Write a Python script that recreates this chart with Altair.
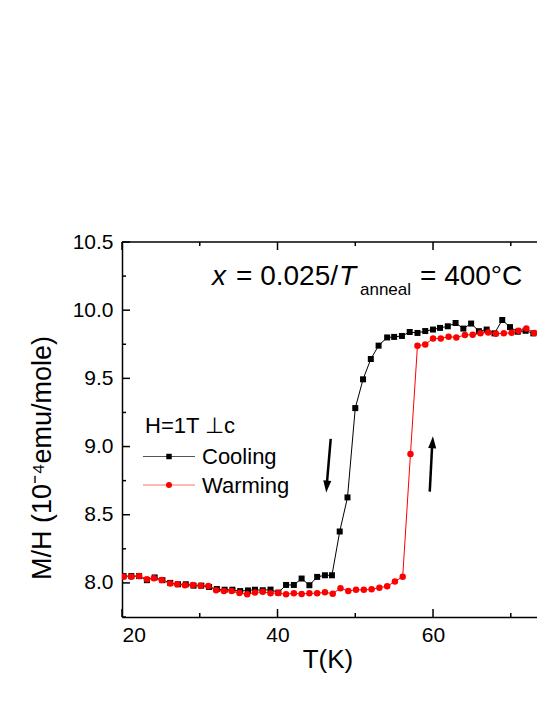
import altair as alt
import pandas as pd

# ---------------- data ----------------
cool_T = [20.2, 21.2, 22.2, 23.2, 24.2, 25.2, 26.2, 27.2, 28.2, 29.2, 30.2, 31.2, 32.2, 33.2, 34.2, 35.2, 36.2,
          37.1, 38.1, 39.1, 40.1, 41.1, 42.1, 43.1, 44.1, 45.1, 46.1,
          47.0, 48.0, 49.0, 50.0, 51.0, 52.0, 53.0,
          54.1, 55.0, 56.0, 57.0, 58.0, 59.0, 60.0,
          60.9, 61.9, 62.9, 63.9, 64.9, 65.9, 66.9, 67.9, 68.9, 69.9, 70.9, 71.9, 72.9, 73.9]
cool_M = [8.05, 8.05, 8.05, 8.02, 8.04, 8.02, 8.00, 7.99, 7.99, 7.98, 7.98, 7.97, 7.955, 7.95, 7.95, 7.94, 7.945,
          7.95, 7.946, 7.951, 7.929, 7.985, 7.985, 8.032, 7.983, 8.044, 8.056,
          8.056, 8.377, 8.627, 9.282, 9.493, 9.642, 9.74,
          9.80, 9.804, 9.811, 9.84, 9.833, 9.847, 9.858,
          9.87, 9.882, 9.906, 9.865, 9.902, 9.846, 9.858, 9.83, 9.928, 9.876, 9.842, 9.849, 9.83, 9.838]

warm_T = [20.2, 21.2, 22.2, 23.2, 24.1, 25.1, 26.2, 27.1, 28.1, 29.1, 30.1, 31.1, 32.1, 33.1, 34.1, 35.1, 36.1, 37.1,
          38.1, 39.1, 40.1, 41.1, 42.1, 43.1, 44.1, 45.1, 46.1, 47.1, 48.1, 49.1, 50.1, 51.1, 52.1, 53.1, 54.1,
          55.1, 56.1, 57.1,
          58.0, 59.0, 60.0, 61.0, 62.0, 63.0, 64.1, 65.1, 66.1, 67.1, 68.1, 69.1, 70.1, 71.0, 72.0, 73.0, 73.9]
warm_M = [8.046, 8.046, 8.05, 8.027, 8.034, 8.022, 7.995, 7.99, 7.983, 7.985, 7.98, 7.978, 7.946, 7.941, 7.941,
          7.926, 7.917, 7.929,
          7.936, 7.924, 7.926, 7.917, 7.924, 7.919, 7.924, 7.924, 7.931, 7.921, 7.961, 7.941, 7.949, 7.949, 7.953,
          7.965, 7.975, 8.01, 8.046, 8.946,
          9.74, 9.748, 9.792, 9.792, 9.806, 9.80, 9.818, 9.82, 9.83, 9.837, 9.827, 9.83, 9.834, 9.85, 9.866, 9.832,
          9.837]

x_major = [20, 40, 60]
x_minor = [30, 50, 70]
y_major = [8.0, 8.5, 9.0, 9.5, 10.0, 10.5]
y_minor = [7.75, 8.25, 8.75, 9.25, 9.75, 10.25]

# arrows (shaft start/end and head centre, in data units)
arr_T0 = [46.84, 59.58]
arr_M0 = [9.056, 8.669]
arr_T1 = [46.37, 59.87]
arr_M1 = [8.743, 8.99]
head_T = [46.33, 59.94]
head_M = [8.706, 9.032]
head_angle = [5, 183.5]

# ---------------- layout ----------------
W, H = 423, 375
FONT = "Liberation Sans"
xs = alt.Scale(domain=[20, 74.4], nice=False, zero=False)
ys = alt.Scale(domain=[7.75, 10.5], nice=False, zero=False)

x_axis = alt.Axis(values=x_major, format="d", title=None, ticks=False, grid=False,
                  labelFont=FONT, labelFontSize=21, labelColor="black", labelPadding=7,
                  domainColor="black", domainWidth=1.5)
y_axis = alt.Axis(values=y_major, format=".1f", title=None, ticks=False, grid=False,
                  labelFont=FONT, labelFontSize=21, labelColor="black", labelPadding=9,
                  domainColor="black", domainWidth=1.5)


def X(field):
    return alt.X(field, scale=xs, axis=x_axis)


def Y(field):
    return alt.Y(field, scale=ys, axis=y_axis)


cool = pd.DataFrame({"T": cool_T, "M": cool_M})
warm = pd.DataFrame({"T": warm_T, "M": warm_M})


def series(df, color, shape, size):
    base = alt.Chart(df).encode(x=X("T:Q"), y=Y("M:Q"))
    line = base.mark_line(color=color, strokeWidth=1, clip=True)
    pts = base.mark_point(shape=shape, filled=True, color=color, size=size, opacity=1, clip=True)
    return line + pts


def xticks(vals, length, top):
    df = pd.DataFrame({"T": vals})
    if top:
        yy, yy2 = alt.value(0), alt.value(length)
    else:
        yy, yy2 = alt.value(H), alt.value(H - length)
    return alt.Chart(df).mark_rule(color="black", strokeWidth=1.5).encode(x=X("T:Q"), y=yy, y2=yy2)


def yticks(vals, length):
    df = pd.DataFrame({"M": vals})
    return alt.Chart(df).mark_rule(color="black", strokeWidth=1.5).encode(
        y=Y("M:Q"), x=alt.value(0), x2=alt.value(length))


def text(s, px, py, size, style="normal", align="left", angle=0, baseline="alphabetic"):
    return alt.Chart(pd.DataFrame({"t": [s]})).mark_text(
        align=align, baseline=baseline, font=FONT, fontSize=size, fontStyle=style,
        color="black", angle=angle).encode(text="t:N", x=alt.value(px), y=alt.value(py))


one = pd.DataFrame({"a": [0]})
top_border = alt.Chart(one).mark_rule(color="black", strokeWidth=1.5).encode(
    x=alt.value(0), x2=alt.value(W), y=alt.value(0))

arrows = pd.DataFrame({"T0": arr_T0, "M0": arr_M0, "T1": arr_T1, "M1": arr_M1,
                       "hT": head_T, "hM": head_M, "ang": head_angle})
shafts = alt.Chart(arrows).mark_rule(color="black", strokeWidth=2.5).encode(
    x=X("T0:Q"), x2="T1:Q", y=Y("M0:Q"), y2="M1:Q")
heads = alt.Chart(arrows).mark_point(
    shape="M -0.67 -1 L 0.67 -1 L 0 1 Z", filled=True, color="black", size=144, opacity=1).encode(
    x=X("hT:Q"), y=Y("hM:Q"), angle=alt.Angle("ang:Q", scale=None))

# legend drawn by hand
leg_cool_line = alt.Chart(one).mark_rule(color="#555555", strokeWidth=1).encode(
    x=alt.value(21), x2=alt.value(73), y=alt.value(214.5))
leg_cool_pt = alt.Chart(one).mark_point(shape="square", filled=True, color="black", size=30, opacity=1).encode(
    x=alt.value(47), y=alt.value(214.5))
leg_warm_line = alt.Chart(one).mark_rule(color="#ff7070", strokeWidth=1).encode(
    x=alt.value(21), x2=alt.value(73), y=alt.value(243))
leg_warm_pt = alt.Chart(one).mark_point(shape="circle", filled=True, color="red", size=36, opacity=1).encode(
    x=alt.value(47), y=alt.value(243))

layers = [
    series(cool, "black", "square", 36),
    series(warm, "red", "circle", 42),
    xticks(x_major, 8, False), xticks(x_minor, 4, False),
    xticks(x_major, 8, True), xticks(x_minor, 4, True),
    yticks(y_major, 8), yticks(y_minor, 4),
    top_border, shafts, heads,
    leg_cool_line, leg_cool_pt, leg_warm_line, leg_warm_pt,
    text("H=1T \u22A5c", 23, 191, 22),
    text("Cooling", 80, 222, 22),
    text("Warming", 80, 251, 22),
    text("x", 90, 43, 28, style="italic"),
    text("= 0.025/", 114, 43, 28),
    text("T", 217, 43, 28, style="italic"),
    text("anneal", 238, 53, 17),
    text("= 400°C", 298, 43, 28),
    text("T(K)", 206, 426, 26, align="center"),
    text("M/H (10\u207B\u2074emu/mole)", -79, 216, 27, align="center", angle=270, baseline="middle"),
]

chart = alt.layer(*layers).properties(
    width=W, height=H,
    autosize=alt.AutoSizeParams(type="none"),
    padding={"left": 114, "top": 234, "right": -8, "bottom": 60},
).configure_view(stroke=None)

chart.save("out.html", embed_options={"renderer": "svg", "actions": False})
